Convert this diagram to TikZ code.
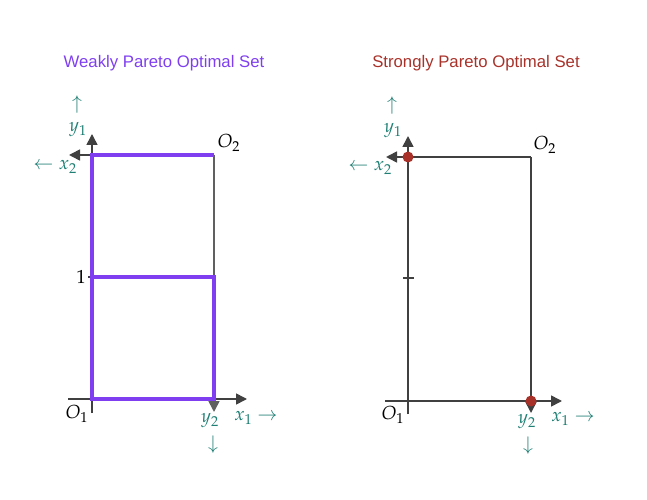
\documentclass[tikz,border=0pt]{standalone}
\usepackage{mathpazo}
\usepackage{fontspec}
\newfontfamily\titlefont{Liberation Sans}
\usetikzlibrary{arrows.meta}
\definecolor{axisgray}{HTML}{404040}
\definecolor{edgegray}{HTML}{606060}
\definecolor{weakpurple}{HTML}{7F3FF0}
\definecolor{strongred}{HTML}{A8322A}
\definecolor{labelteal}{HTML}{1F7F74}
\begin{document}
\begin{tikzpicture}[x=1bp,y=-1bp,
  axis/.style={draw=axisgray,line width=1.6bp},
  axisarrow/.style={axis,-{Triangle[length=11bp,width=11bp]}},
  weak/.style={draw=weakpurple,line width=3.4bp},
  title/.style={font=\titlefont\fontsize{16.8}{19}\selectfont,inner sep=0pt},
  mlabel/.style={text=labelteal,font=\fontsize{19}{22}\selectfont,inner sep=0pt},
  blabel/.style={text=black,font=\fontsize{19}{22}\selectfont,inner sep=0pt},
  dot/.style={circle,fill=strongred,inner sep=0pt,minimum size=11bp}]
\useasboundingbox (0,0) rectangle (647,500);
% ---------- left panel ----------
\node[title,text=weakpurple] (tw) at (164,63) {Weakly Pareto Optimal Set};
\coordinate (LO1) at (92,399);
\coordinate (LO2) at (214,155);
\coordinate (LTL) at (92,155);
\coordinate (LMid) at (92,277);
\coordinate (LMidR) at (214,277);
\coordinate (LBR) at (214,399);
\coordinate (LYb) at (92,413);
\coordinate (LYt) at (92,134);
\coordinate (LXa) at (68,399);
\coordinate (LXb) at (247,399);
\coordinate (LX2) at (69,155);
\coordinate (LY2) at (214,412);
\coordinate (LTa) at (88,277);
\coordinate (LTb) at (96,277);
\draw[axisarrow] (LYb) -- (LYt);
\draw[axisarrow] (LXa) -- (LXb);
\draw[axisarrow] (LO2) -- (LX2);
\draw[axisarrow,draw=edgegray] (LO2) -- (LY2);
\draw[axis] (LTa) -- (LTb);
\draw[weak] (LO2) -- (LTL) -- (LO1) -- (LBR) -- (LMidR) -- (LMid);
\node[mlabel] (lup) at (77,105) {$\uparrow$};
\node[mlabel] (ly1) at (78,130) {$y_1$};
\node[mlabel] (lx2) at (55,167) {$\leftarrow x_2$};
\node[blabel] (lo2) at (229,143) {$O_2$};
\node[blabel] (lone) at (81,277) {$1$};
\node[blabel] (lo1) at (77,414) {$O_1$};
\node[mlabel] (ly2) at (210,421) {$y_2$};
\node[mlabel] (ldown) at (213,445) {$\downarrow$};
\node[mlabel] (lx1) at (256,418) {$x_1\rightarrow$};
% ---------- right panel ----------
\node[title,text=strongred] (ts) at (476,63) {Strongly Pareto Optimal Set};
\coordinate (RO1) at (408,401);
\coordinate (RO2) at (531,157);
\coordinate (RTL) at (408,157);
\coordinate (RYb) at (408,414);
\coordinate (RYt) at (408,136);
\coordinate (RXa) at (385,401);
\coordinate (RXb) at (562,401);
\coordinate (RX2) at (386,157);
\coordinate (RY2) at (531,413);
\coordinate (RTa) at (403,278);
\coordinate (RTb) at (414,278);
\draw[axisarrow] (RYb) -- (RYt);
\draw[axisarrow] (RXa) -- (RXb);
\draw[axisarrow] (RO2) -- (RX2);
\draw[axisarrow] (RO2) -- (RY2);
\draw[axis] (RTa) -- (RTb);
\node[dot] (rd1) at (RTL) {};
\node[dot] (rd2) at (531,401) {};
\node[mlabel] (rup) at (392,106) {$\uparrow$};
\node[mlabel] (ry1) at (393,131) {$y_1$};
\node[mlabel] (rx2) at (370,168) {$\leftarrow x_2$};
\node[blabel] (ro2) at (545,145) {$O_2$};
\node[blabel] (ro1) at (393,415) {$O_1$};
\node[mlabel] (ry2) at (527,422) {$y_2$};
\node[mlabel] (rdown) at (528,446) {$\downarrow$};
\node[mlabel] (rx1) at (573,419) {$x_1\rightarrow$};
\end{tikzpicture}
\end{document}
